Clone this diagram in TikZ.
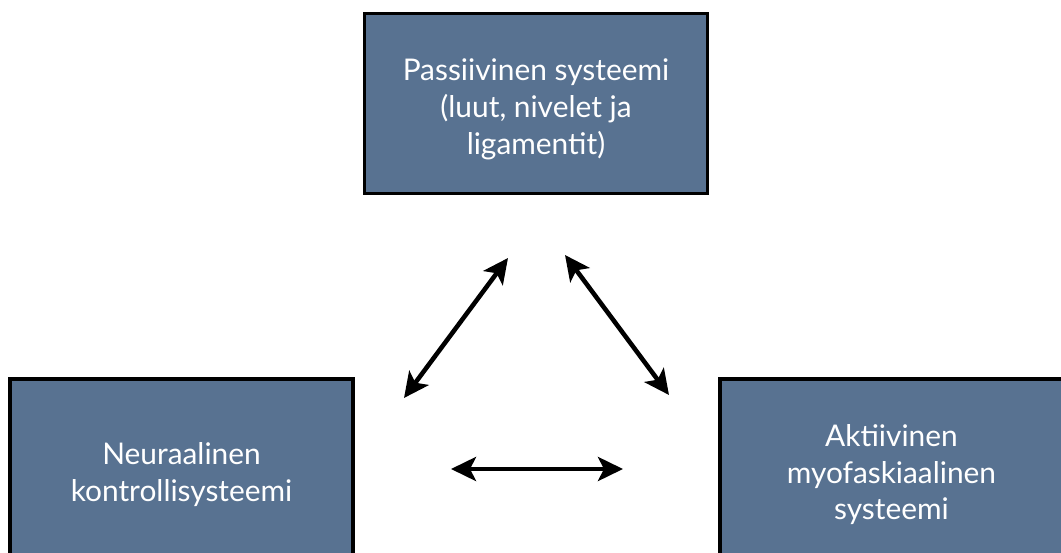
\documentclass[tikz,border=0pt]{standalone}
\usepackage{fontspec}
\setmainfont{Lato}
\usetikzlibrary{arrows.meta, positioning}
\definecolor{slateblue}{RGB}{88,114,145}
\newcommand{\Lift}{\rule{0pt}{19pt}}

\begin{document}
\begin{tikzpicture}[x=0.02cm, y=-0.02cm,
    >={Stealth[length=0.5cm, width=0.48cm, inset=0.12cm]},
    sysbox/.style={draw=black, line width=2pt, fill=slateblue, text=white,
      minimum width=6.86cm, minimum height=3.6cm, align=center,
      font=\fontsize{17}{21}\selectfont},
    link/.style={<->, line width=2.6pt}]
  \useasboundingbox (0,0) rectangle (1061,553);
  \clip (0,0) rectangle (1061,553);

  \node[sysbox] (passive) at (536,103.5) {\Lift Passiivinen systeemi\\(luut, nivelet ja\\ligamentit)};
  \node[sysbox, below left=3.64cm and 0.16cm of passive] (neural) {\Lift Neuraalinen\\kontrollisysteemi};
  \node[sysbox, below right=3.64cm and 0.18cm of passive] (active) {\Lift Aktiivinen\\myofaskiaalinen\\systeemi};

  % free ends of the arrows
  \coordinate (ptl) at (508,258);
  \coordinate (nlt) at (404,398);
  \coordinate (ptr) at (565,255);
  \coordinate (alt) at (669,395);
  \coordinate (nrb) at (451,469);
  \coordinate (alb) at (623,469);

  \draw[link] (nlt) -- (ptl);
  \draw[link] (ptr) -- (alt);
  \draw[link] (nrb) -- (alb);
\end{tikzpicture}
\end{document}
